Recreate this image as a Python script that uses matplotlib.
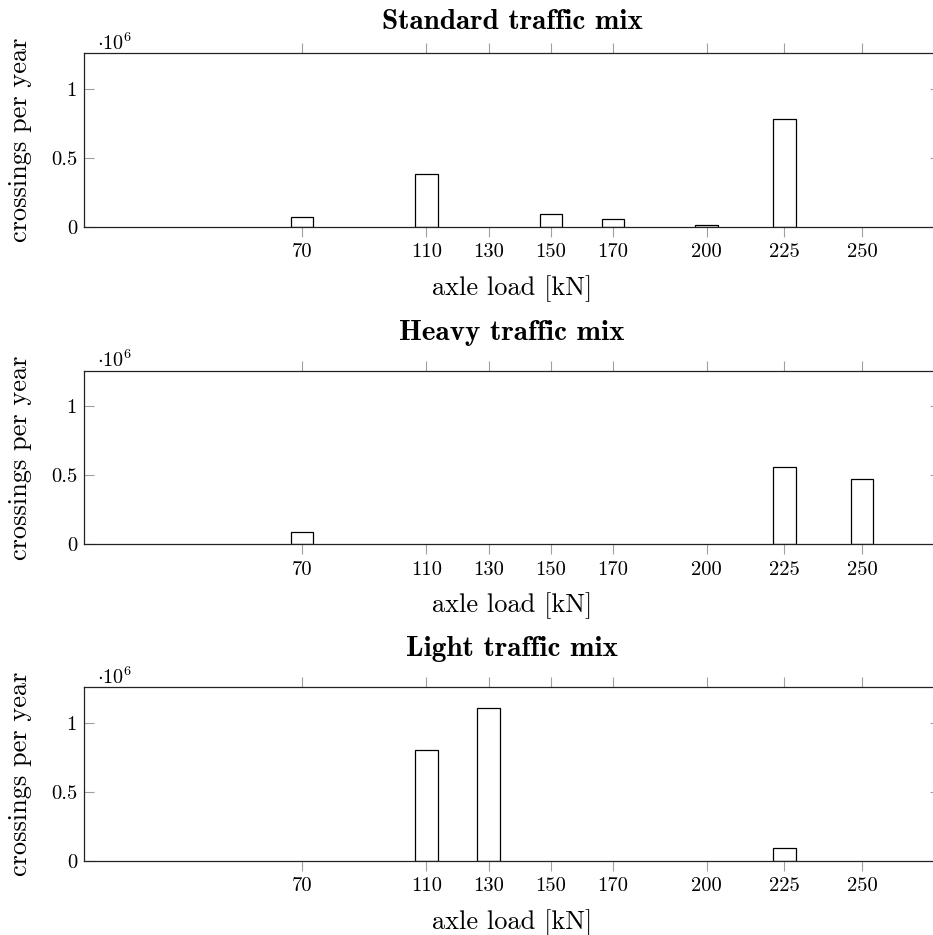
#!/usr/bin/env python3
"""Axle load spectra (crossings per year) for three traffic mixes."""

import matplotlib
matplotlib.use("Agg")
import matplotlib.pyplot as plt

# axle loads shown on every x axis [kN]
XTICKS = [70, 110, 130, 150, 170, 200, 225, 250]
YTICKS = [0, 0.5e6, 1e6]
YTICK_LABELS = ["0", "0.5", "1"]

TITLES = ["Standard traffic mix", "Heavy traffic mix", "Light traffic mix"]

# crossings per year, per axle load
STANDARD_LOADS = [70, 110, 150, 170, 200, 225]
STANDARD_COUNTS = [75e3, 386e3, 94e3, 56e3, 12e3, 780e3]

HEAVY_LOADS = [70, 225, 250]
HEAVY_COUNTS = [87e3, 558e3, 469e3]

LIGHT_LOADS = [110, 130, 225]
LIGHT_COUNTS = [804e3, 1111e3, 97e3]

plt.rcParams["font.family"] = "cmr10"
plt.rcParams["mathtext.fontset"] = "cm"
plt.rcParams["axes.formatter.use_mathtext"] = True

W, H = 933, 935
fig = plt.figure(figsize=(W / 100, H / 100), dpi=100)

series = [
    (STANDARD_LOADS, STANDARD_COUNTS),
    (HEAVY_LOADS, HEAVY_COUNTS),
    (LIGHT_LOADS, LIGHT_COUNTS),
]
# pixel layout of the three panels (top edge, distance title baseline -> axes)
tops = [53.3, 370.5, 687.3]
title_gaps = [24, 30, 31]
ax_h = 173.7
left_px, right_px = 84, 940

for (loads, counts), title, top, gap in zip(series, TITLES, tops, title_gaps):
    ax = fig.add_axes([left_px / W, 1 - (top + ax_h) / H,
                       (right_px - left_px) / W, ax_h / H])
    ax.bar(loads, counts, width=7.2, facecolor="white", edgecolor="black",
           linewidth=0.9, zorder=2)
    ax.set_xlim(0, 275)
    ax.set_ylim(0, 1.258e6)

    ax.set_xticks(XTICKS)
    ax.set_xticklabels([str(t) for t in XTICKS])
    ax.set_yticks(YTICKS)
    ax.set_yticklabels(YTICK_LABELS)

    ax.tick_params(axis="x", direction="out", length=7.3, width=0.8,
                   color="#a0a0a0", top=True, bottom=True,
                   labelsize=14.8, pad=4.5)
    ax.tick_params(axis="y", direction="in", length=7.3, width=0.8,
                   color="#a0a0a0", left=True, right=True,
                   labelsize=14.8, pad=5)
    for sp in ax.spines.values():
        sp.set_linewidth(0.9)
        sp.set_color("#222222")
        sp.set_zorder(3)

    ax.set_xlabel("axle load [kN]", fontsize=19, va="baseline")
    ax.xaxis.set_label_coords(0.5, -68 / ax_h)
    ax.set_ylabel("crossings per year", fontsize=19, va="baseline")
    ax.yaxis.set_label_coords(-(left_px - 27.5) / (right_px - left_px), 0.5)

    ax.text((512 - left_px) / (right_px - left_px), 1 + gap / ax_h, title,
            transform=ax.transAxes, ha="center", va="baseline",
            fontsize=21, fontfamily="cmb10")
    ax.text(13 / (right_px - left_px), 1 + 3.3 / ax_h, r"$\cdot 10^{6}$",
            transform=ax.transAxes, ha="left", va="baseline", fontsize=14.5)

fig.savefig("out.png", dpi=100)
